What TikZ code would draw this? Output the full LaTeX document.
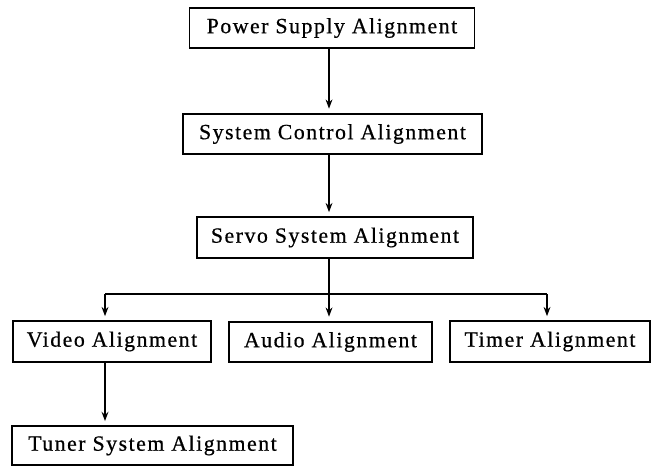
\documentclass[tikz,border=0pt]{standalone}
\usepackage{fontspec}
\setmainfont{Liberation Serif}[LetterSpace=7,FakeBold=0.6]
\usetikzlibrary{arrows.meta,positioning,calc}

\begin{document}
\begin{tikzpicture}[
  >={Stealth[length=2.3mm,width=1.7mm]},
  every node/.style={font=\fontsize{15.5}{18}\selectfont},
  stage/.style={draw, line width=1.3pt, minimum height=1.02cm, inner sep=0pt},
  link/.style={line width=1.3pt},
  feed/.style={->, line width=1.3pt, shorten >=0.1cm},
]
\useasboundingbox (0,0) rectangle (16.35,11.65);

% main chain
\node[stage, minimum width=7.125cm] (power)  at (8.30, 10.95)  {Power Supply Alignment};
\node[stage, minimum width=7.475cm] (sysctl) at (8.3125, 8.30) {System Control Alignment};
\node[stage, minimum width=6.9cm]   (servo)  at (8.375, 5.7125) {Servo System Alignment};

% second row
\node[stage, minimum width=4.95cm]  (video) at (2.80, 3.1125)   {Video Alignment};
\node[stage, minimum width=5.075cm] (audio) at (8.2625, 3.10)   {Audio Alignment};
\node[stage, minimum width=5.0cm]   (timer) at (13.75, 3.1125)  {Timer Alignment};

% last stage
\node[stage, minimum width=7.025cm, minimum height=0.975cm] (tuner) at (3.8125, 0.5125) {Tuner System Alignment};

% fork points
\coordinate (fork) at (8.225, 4.30);
\coordinate (lend) at (2.625, 4.30);
\coordinate (rend) at (13.675, 4.30);

% arrows down the chain
\draw[feed] (power.south -| fork) -- (sysctl.north -| fork);
\draw[feed] (sysctl.south -| fork) -- (servo.north -| fork);
\draw[link] (servo.south -| fork) -- (fork);
\draw[link] (lend) -- (rend);

% branches
\draw[feed] (lend) -- (lend |- video.north);
\draw[feed] (fork) -- (fork |- audio.north);
\draw[feed] (rend) -- (rend |- timer.north);
\draw[feed] (video.south -| lend) -- (tuner.north -| lend);
\end{tikzpicture}
\end{document}
